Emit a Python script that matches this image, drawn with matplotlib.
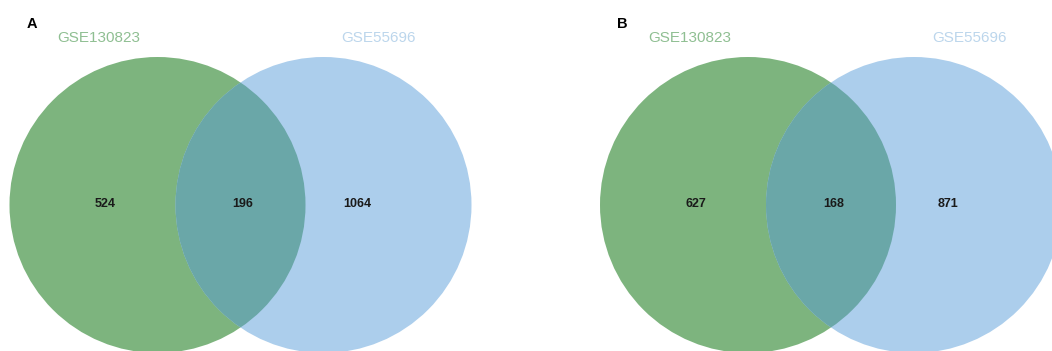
import matplotlib.pyplot as plt
from matplotlib.patches import Circle

plt.rcParams["font.family"] = ["Liberation Sans", "DejaVu Sans"]

# 两个数据集的差异基因交集
panel_labels = ["A", "B"]
set_names = ["GSE130823", "GSE55696"]
only_left = [524, 627]
shared = [196, 168]
only_right = [1064, 871]

GREEN = "#7db47e"
BLUE = "#acceec"
OVERLAP = "#6aa7a8"
NAME_COLORS = ["#8fbf92", "#bcd6ec"]

fig = plt.figure(figsize=(10.52, 3.51), dpi=100)
ax = fig.add_axes([0, 0, 1, 1])
ax.set_xlim(0, 1052)
ax.set_ylim(351, 0)
ax.set_aspect("equal")
ax.axis("off")

R = 148
CY = 205
panel_x0 = [0, 590.5]

for i in range(2):
    x0 = panel_x0[i]
    cl, cr = x0 + 157.5, x0 + 323.5
    left = Circle((cl, CY), R, color=GREEN, lw=0)
    right = Circle((cr, CY), R, color=BLUE, lw=0)
    ax.add_patch(left)
    ax.add_patch(right)
    # 交集区域：左圆裁剪到右圆内
    inter = Circle((cl, CY), R, color=OVERLAP, lw=0)
    ax.add_patch(inter)
    inter.set_clip_path(right)

    ax.text(x0 + 32, 24, panel_labels[i], fontsize=10.5, fontweight="bold",
            ha="center", va="center", color="black")
    ax.text(x0 + 99, 38, set_names[0], fontsize=11, ha="center", va="center",
            color=NAME_COLORS[0])
    ax.text(x0 + 379, 38, set_names[1], fontsize=11, ha="center", va="center",
            color=NAME_COLORS[1])

    for x, n in [(x0 + 105.5, only_left[i]), (x0 + 243, shared[i]), (x0 + 357, only_right[i])]:
        ax.text(x, 204, str(n), fontsize=9, fontweight="bold",
                ha="center", va="center", color="#1a1a1a")

fig.savefig("out.png", dpi=100)
